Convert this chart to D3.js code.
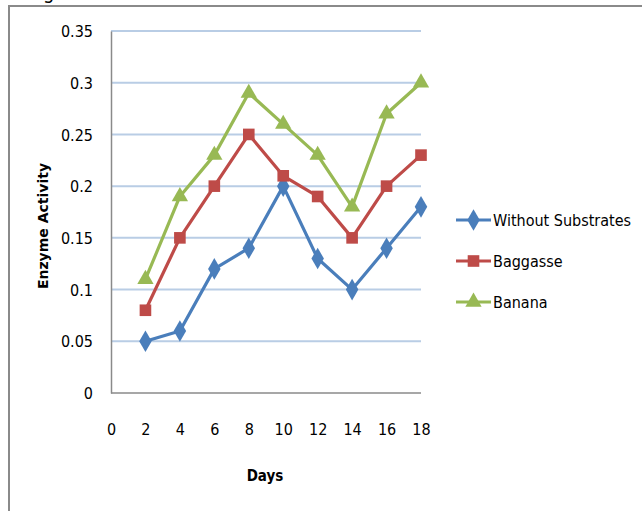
<!DOCTYPE html>
<html><head><meta charset="utf-8">
<script src="https://cdn.jsdelivr.net/npm/d3@7"></script>
<style>
html,body{margin:0;padding:0;background:#fff;}
svg{display:block;}
text{font-family:"Liberation Sans Narrow","DejaVu Sans Condensed","Open Sans",sans-serif;}
</style></head>
<body>
<svg id="c" width="642" height="511"></svg>
<script>
const days = [2, 4, 6, 8, 10, 12, 14, 16, 18];
const withoutSubstrates = [0.05, 0.06, 0.12, 0.14, 0.20, 0.13, 0.10, 0.14, 0.18];
const baggasse = [0.08, 0.15, 0.20, 0.25, 0.21, 0.19, 0.15, 0.20, 0.23];
const banana = [0.11, 0.19, 0.23, 0.29, 0.26, 0.23, 0.18, 0.27, 0.30];
const xTicks = [0, 2, 4, 6, 8, 10, 12, 14, 16, 18];
const yTicks = [0, 0.05, 0.1, 0.15, 0.2, 0.25, 0.3, 0.35];
const seriesNames = ["Without Substrates", "Baggasse", "Banana"];

const series = [
  {name: seriesNames[0], values: withoutSubstrates, color: "#4A7EBB", sym: d3.symbolDiamond, size: 135},
  {name: seriesNames[1], values: baggasse, color: "#BE4B48", sym: d3.symbolSquare, size: 135},
  {name: seriesNames[2], values: banana, color: "#98B954", sym: d3.symbolTriangle, size: 115}
];

const svg = d3.select("#c");
// outer frame
svg.append("line").attr("x1", 9).attr("x2", 642).attr("y1", 6).attr("y2", 6).attr("stroke", "#8a8a8a").attr("stroke-width", 2);
svg.append("line").attr("x1", 9).attr("x2", 9).attr("y1", 5).attr("y2", 511).attr("stroke", "#8a8a8a").attr("stroke-width", 2);
// cut-off caption remnant
svg.append("text").attr("x", 43).attr("y", -1).attr("font-size", 20).attr("fill", "#000").text("g");

const L = 111, R = 421, T = 31, B = 393;
const x = d3.scaleLinear().domain([0, 18]).range([L, R]);
const y = d3.scaleLinear().domain([0, 0.35]).range([B, T]);

// gridlines
svg.append("g").selectAll("line").data(yTicks.filter(v => v > 0)).join("line")
  .attr("x1", L).attr("x2", R).attr("y1", d => y(d)).attr("y2", d => y(d))
  .attr("stroke", "#B9CDE5").attr("stroke-width", 2);

// y axis
const yAxis = svg.append("g").attr("transform", `translate(${L},0)`)
  .call(d3.axisLeft(y).tickValues(yTicks).tickSize(0).tickPadding(18).tickFormat(d => d3.format("")(+d.toFixed(2))));
yAxis.select(".domain").attr("stroke", "#8a8a8a").attr("stroke-width", 1.5);
yAxis.selectAll("text").attr("font-size", 16).attr("fill", "#000").attr("dy", "0.35em");

// x axis baseline
svg.append("line").attr("x1", L).attr("x2", R).attr("y1", B).attr("y2", B).attr("stroke", "#8a8a8a").attr("stroke-width", 1.5);
// x tick labels (placed lower, as in reference)
const xAxis = svg.append("g").attr("transform", `translate(0,${B})`)
  .call(d3.axisBottom(x).tickValues(xTicks).tickSize(0).tickPadding(31).tickFormat(d3.format("d")));
xAxis.select(".domain").remove();
xAxis.selectAll("text").attr("font-size", 16).attr("fill", "#000");

// axis titles
svg.append("text").attr("x", 265).attr("y", 481).attr("text-anchor", "middle")
  .attr("font-size", 15).attr("font-weight", "bold").attr("fill", "#000").text("Days");
svg.append("text").attr("transform", "translate(48,226) rotate(-90)").attr("text-anchor", "middle")
  .attr("font-weight", "bold").attr("fill", "#000")
  .style("font-family", "'DejaVu Sans','Open Sans',sans-serif").attr("font-size", 14).text("Enzyme Activity");

// lines and markers
const line = d3.line().x((d, i) => x(days[i])).y(d => y(d));
series.forEach(s => {
  svg.append("path").datum(s.values).attr("d", line).attr("fill", "none")
    .attr("stroke", s.color).attr("stroke-width", 3.2).attr("stroke-linejoin", "round");
});
series.forEach(s => {
  svg.append("g").selectAll("path").data(s.values).join("path")
    .attr("transform", (d, i) => `translate(${x(days[i])},${y(d)})`)
    .attr("d", d3.symbol().type(s.sym).size(s.size)).attr("fill", s.color);
});

// legend
const lg = svg.append("g");
series.forEach((s, i) => {
  const ly = 220 + i * 41;
  lg.append("line").attr("x1", 456).attr("x2", 491).attr("y1", ly).attr("y2", ly)
    .attr("stroke", s.color).attr("stroke-width", 3.2);
  lg.append("path").attr("transform", `translate(473.5,${ly})`)
    .attr("d", d3.symbol().type(s.sym).size(s.size)).attr("fill", s.color);
  lg.append("text").attr("x", 493).attr("y", ly).attr("dy", "0.35em")
    .attr("font-size", 16).attr("fill", "#000").text(s.name);
});
</script>
</body></html>
